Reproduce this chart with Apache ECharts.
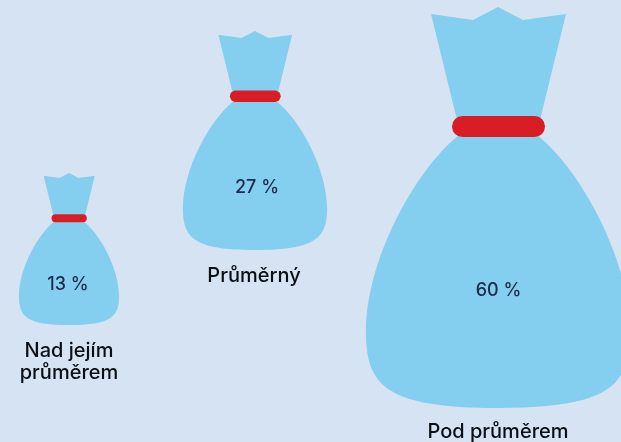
<!DOCTYPE html>
<html><head><meta charset="utf-8">
<style>html,body{margin:0;padding:0;background:#d6e3f3}#c{width:621px;height:442px}</style>
<script src="https://cdn.jsdelivr.net/npm/echarts@6/dist/echarts.min.js"></script>
</head><body><div id="c"></div>
<script>
const categoryLines = [['Nad jejím', 'průměrem'], ['Průměrný'], ['Pod průměrem']];
const values = [13, 27, 60];

// layout only (pixels on the hidden axes)
const bagCenterX = [69, 255, 498];
const bagTopY = [173, 31, 7];
const bagHeight = [152, 219, 401];
const valueLabelX = [68, 257, 498.5];
const valueLabelY = [285, 188, 291];
const nameLabelX = [69, 254, 498];
const nameLabelY = [351, 276, 432];

const REF_H = 401;
const bodyPath = 'M-67,7 L-25,13 L0,0 L25,13 L68,7 L42,113 L39,128 C83,163 132,253 132,325 C132,378 113,401 0,401 C-113,401 -132,378 -132,325 C-132,253 -83,163 -39,128 L-41,113 Z';

const chart = echarts.init(document.getElementById('c'));
chart.setOption({
  backgroundColor: '#d6e3f3',
  animation: false,
  grid: {left: 0, right: 0, top: 0, bottom: 0},
  xAxis: {type: 'value', min: 0, max: 621, show: false},
  yAxis: {type: 'value', min: 0, max: 442, inverse: true, show: false},
  series: [{
    type: 'custom',
    silent: true,
    clip: true,
    data: values.map((v, i) => [bagCenterX[i], bagTopY[i], v, i]),
    encode: {x: 0, y: 1},
    renderItem(params, api) {
      const i = api.value(3);
      const p = api.coord([api.value(0), api.value(1)]);
      const s = bagHeight[i] / REF_H;
      const text = (x, y, str, size, weight, color) => ({
        type: 'text', x, y,
        style: {text: str, x: 0, y: 0, align: 'center', verticalAlign: 'middle',
          fontFamily: 'Inter', fontSize: size, fontWeight: weight, fill: color}
      });
      const names = categoryLines[i].map((t, k) =>
        text(nameLabelX[i], nameLabelY[i] + k * 22, t, 20, 500, '#0b0f14'));
      return {
        type: 'group',
        children: [
          {type: 'group', x: p[0], y: p[1], scaleX: s, scaleY: s, children: [
            {type: 'path', shape: {pathData: bodyPath}, style: {fill: '#84cff0'}},
            {type: 'rect', shape: {x: -46, y: 109, width: 93, height: 21, r: 10.5}, style: {fill: '#d81e24'}}
          ]},
          text(valueLabelX[i], valueLabelY[i], api.value(2) + ' %', 18, 500, '#1c2b4a'),
          ...names
        ]
      };
    }
  }]
});
</script></body></html>
